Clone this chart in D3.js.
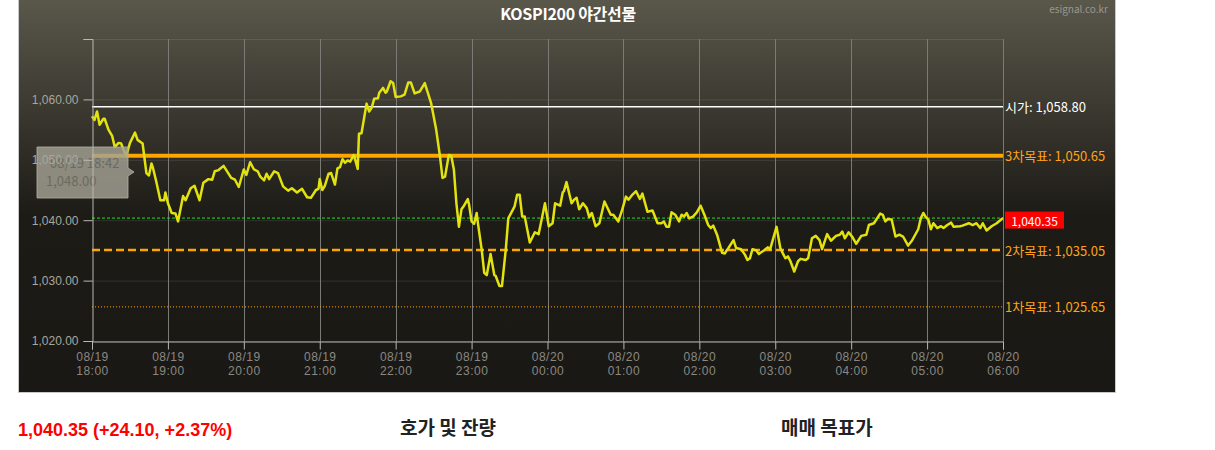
<!DOCTYPE html>
<html>
<head>
<meta charset="utf-8">
<script src="https://cdn.jsdelivr.net/npm/d3@7"></script>
<style>
  body { margin: 0; background: #fff; }
  svg { display: block; font-family: "Noto Sans CJK KR", "Noto Sans", sans-serif; }
</style>
</head>
<body>
<div id="chartDiv"></div>
<script>
// KOSPI200 night futures, 08/19 18:00 - 08/20 06:00

// minutes after 18:00 and price
var minutes = [
  0, 2, 4, 6, 9, 10, 13, 16, 18, 21, 23, 27, 30, 34, 36, 40, 43, 45, 47, 48,
  51, 54, 57, 58, 60, 63, 66, 68, 72, 74, 78, 81, 85, 88, 92, 95, 97, 100, 104, 110,
  113, 116, 120, 122, 125, 128, 131, 133, 136, 138, 140, 144, 147, 151, 155, 158, 162, 166, 170, 173,
  177, 179, 180, 182, 184, 187, 189, 192, 194, 196, 198, 200, 202, 204, 207, 210, 211, 213, 217, 219,
  221, 223, 226, 227, 230, 232, 233, 236, 238, 240, 244, 247, 250, 252, 255, 259, 263, 268, 272, 275,
  277, 279, 282, 284, 286, 288, 290, 292, 294, 297, 298, 300, 302, 304, 305, 308, 310, 312, 315, 318,
  319, 322, 324, 327, 329, 334, 336, 338, 340, 342, 346, 350, 353, 358, 361, 364, 366, 370, 372, 373,
  375, 379, 381, 383, 385, 388, 391, 393, 395, 398, 401, 405, 410, 412, 416, 419, 422, 424, 427, 430,
  433, 435, 439, 443, 447, 450, 452, 454, 456, 458, 461, 464, 466, 468, 470, 472, 475, 478, 481, 484,
  487, 489, 491, 494, 498, 500, 503, 507, 509, 513, 516, 518, 520, 522, 525, 527, 531, 534, 536, 541,
  544, 546, 548, 550, 552, 555, 558, 560, 564, 566, 569, 572, 575, 577, 581, 584, 588, 591, 593, 595,
  598, 601, 604, 608, 612, 614, 618, 623, 625, 627, 629, 632, 635, 638, 641, 645, 648, 653, 655, 657,
  659, 661, 663, 665, 668, 671, 673, 676, 679, 681, 686, 688, 693, 696, 699, 702, 704, 707, 711, 715,
  720
];
var prices = [
  1057.2, 1056.6, 1058.0, 1055.8, 1056.8, 1056.8, 1055.0, 1053.9, 1052.1, 1052.8, 1052.7, 1050.6, 1052.8, 1054.5, 1053.3, 1052.7, 1047.8, 1047.4, 1049.4, 1048.8,
  1046.2, 1043.3, 1043.3, 1044.6, 1042.8, 1041.2, 1041.1, 1039.8, 1044.0, 1043.3, 1045.3, 1045.7, 1043.3, 1046.2, 1046.8, 1046.7, 1048.1, 1048.3, 1049.0, 1047.0,
  1046.7, 1045.5, 1048.4, 1047.5, 1049.6, 1048.4, 1048.1, 1047.2, 1046.6, 1047.7, 1046.8, 1048.1, 1047.8, 1045.6, 1044.9, 1045.3, 1044.6, 1045.2, 1043.8, 1043.7,
  1045.0, 1045.2, 1046.8, 1045.0, 1045.7, 1047.7, 1047.8, 1045.9, 1048.6, 1048.8, 1050.1, 1049.5, 1049.9, 1049.7, 1050.8, 1048.5, 1054.3, 1054.4, 1059.3, 1058.0,
  1058.6, 1060.1, 1060.2, 1061.1, 1061.9, 1061.1, 1061.3, 1063.0, 1062.7, 1060.4, 1060.5, 1060.8, 1062.8, 1062.8, 1061.0, 1061.3, 1062.7, 1059.4, 1055.0, 1050.6,
  1047.0, 1047.2, 1050.8, 1050.6, 1048.4, 1042.8, 1038.9, 1041.8, 1042.4, 1043.5, 1042.6, 1039.8, 1039.4, 1041.2, 1039.5, 1035.1, 1031.3, 1030.9, 1034.4, 1030.9,
  1030.8, 1029.1, 1029.1, 1035.1, 1040.3, 1042.3, 1044.2, 1044.2, 1040.6, 1040.6, 1036.3, 1038.0, 1037.7, 1042.8, 1039.0, 1039.5, 1042.8, 1042.4, 1044.6, 1044.8,
  1046.3, 1042.8, 1043.4, 1043.7, 1041.8, 1042.8, 1042.0, 1040.5, 1041.2, 1039.0, 1039.5, 1043.1, 1040.9, 1040.9, 1039.8, 1041.7, 1043.9, 1043.4, 1044.2, 1044.8,
  1043.5, 1044.4, 1041.4, 1041.6, 1039.5, 1039.5, 1039.8, 1038.9, 1038.9, 1041.3, 1040.9, 1039.8, 1040.9, 1040.6, 1041.2, 1040.3, 1040.6, 1041.3, 1042.4, 1040.9,
  1039.2, 1038.7, 1039.1, 1037.6, 1034.6, 1034.5, 1035.4, 1036.7, 1035.4, 1035.2, 1034.3, 1033.4, 1033.7, 1035.2, 1035.0, 1034.4, 1035.0, 1035.5, 1035.2, 1038.9,
  1035.4, 1034.5, 1033.7, 1034.0, 1033.2, 1031.5, 1033.2, 1033.6, 1033.4, 1033.7, 1037.0, 1037.4, 1036.7, 1035.2, 1037.7, 1036.6, 1037.4, 1037.6, 1038.1, 1037.0,
  1038.0, 1037.2, 1036.1, 1037.4, 1037.6, 1039.2, 1039.5, 1041.1, 1040.9, 1039.8, 1040.2, 1040.1, 1037.3, 1037.6, 1037.3, 1035.8, 1036.6, 1038.5, 1040.3, 1041.2,
  1040.5, 1040.1, 1038.5, 1039.5, 1038.7, 1039.0, 1038.7, 1039.2, 1039.6, 1038.9, 1039.0, 1039.1, 1039.5, 1039.2, 1039.5, 1038.7, 1039.5, 1038.3, 1039.0, 1039.5,
  1040.35
];

// x axis ticks
var tickMinutes = [0, 60, 120, 180, 240, 300, 360, 420, 480, 540, 600, 660, 720];
var tickDates = ["08/19", "08/19", "08/19", "08/19", "08/19", "08/19",
                 "08/20", "08/20", "08/20", "08/20", "08/20", "08/20", "08/20"];
var tickTimes = ["18:00", "19:00", "20:00", "21:00", "22:00", "23:00",
                 "00:00", "01:00", "02:00", "03:00", "04:00", "05:00", "06:00"];
var yTicks = [1020, 1030, 1040, 1050, 1060, 1070];

// reference levels
var levelNames = ["시가", "3차목표", "2차목표", "1차목표"];
var levelValues = [1058.80, 1050.65, 1035.05, 1025.65];
var currentPrice = 1040.35;

// tooltip
var tipTime = "08/19 18:42";
var tipValue = 1048.00;

var canvasWidth = 1215, canvasHeight = 450;
var panel = {left: 18, top: 0, width: 1098, height: 393};
var plot = {left: 92, right: 1003, top: 39, bottom: 341};

var fmt = d3.format(",.2f");

var svg = d3.select("#chartDiv")
    .append("svg")
    .attr("width", canvasWidth)
    .attr("height", canvasHeight);

var grad = svg.append("defs").append("linearGradient")
    .attr("id", "bg")
    .attr("x1", 0).attr("y1", 0).attr("x2", 0).attr("y2", 1);
grad.append("stop").attr("offset", "0%").attr("stop-color", "#5a574b");
grad.append("stop").attr("offset", "55%").attr("stop-color", "#1d1b16");
grad.append("stop").attr("offset", "100%").attr("stop-color", "#1a1814");

svg.append("rect")
    .attr("x", panel.left + 0.5)
    .attr("y", -1)
    .attr("width", panel.width - 1)
    .attr("height", panel.height + 0.5)
    .attr("fill", "url(#bg)")
    .attr("stroke", "#c8c8c8")
    .attr("stroke-width", 1);

var x = d3.scaleLinear().domain([0, 720]).range([plot.left, plot.right]);
var y = d3.scaleLinear().domain([1020, 1070]).range([plot.bottom, plot.top]);

// grid
svg.append("g").selectAll("line")
    .data(yTicks)
    .enter().append("line")
    .attr("x1", plot.left).attr("x2", plot.right)
    .attr("y1", function(d) { return y(d) + 0.5; })
    .attr("y2", function(d) { return y(d) + 0.5; })
    .attr("stroke", "#ffffff")
    .attr("stroke-opacity", 0.1);

svg.append("g").selectAll("line")
    .data(tickMinutes.slice(1))
    .enter().append("line")
    .attr("x1", function(d) { return Math.round(x(d)) + 0.5; })
    .attr("x2", function(d) { return Math.round(x(d)) + 0.5; })
    .attr("y1", plot.top).attr("y2", plot.bottom)
    .attr("stroke", "#7a7a76")
    .attr("stroke-width", 1);

var xAxis = svg.append("g")
    .attr("transform", "translate(0," + (plot.bottom + 0.5) + ")")
    .call(d3.axisBottom(x).tickValues(tickMinutes).tickSize(8).tickFormat(""));

xAxis.select(".domain").attr("stroke", "#b8b8b4");
xAxis.selectAll(".tick line").attr("stroke", "#b8b8b4");

var xLabels = xAxis.selectAll(".tick text");
xLabels.text(null)
    .attr("fill", "#8a8882")
    .style("font-size", "12px")
    .style("letter-spacing", "0.5px")
    .attr("y", 7);
xLabels.append("tspan").attr("x", 0).attr("dy", "1em")
    .text(function(d, i) { return tickDates[i]; });
xLabels.append("tspan").attr("x", 0).attr("dy", "1.2em")
    .text(function(d, i) { return tickTimes[i]; });

// reference lines
var levelColors = ["#ffffff", "#ffa500", "#ffa500", "#ffa500"];
var levelWidths = [1.5, 4, 2.5, 1];
var levelDash = [null, null, "8,4", "1,2"];

svg.append("line")
    .attr("x1", plot.left).attr("x2", plot.right)
    .attr("y1", y(currentPrice)).attr("y2", y(currentPrice))
    .attr("stroke", "#22e022")
    .attr("stroke-width", 1)
    .attr("stroke-dasharray", "3,2");

levelValues.forEach(function(v, i) {
    svg.append("line")
        .attr("x1", plot.left).attr("x2", plot.right)
        .attr("y1", y(v)).attr("y2", y(v))
        .attr("stroke", levelColors[i])
        .attr("stroke-width", levelWidths[i])
        .attr("stroke-dasharray", levelDash[i]);
    svg.append("text")
        .attr("x", plot.right + 2)
        .attr("y", y(v))
        .attr("dominant-baseline", "central")
        .attr("fill", i === 0 ? "#ffffff" : "#ffa31a")
        .style("font-size", "13px")
        .text(levelNames[i] + ": " + fmt(v));
});

// price line
var line = d3.line()
    .x(function(d) { return x(d[0]); })
    .y(function(d) { return y(d[1]); });

svg.append("path")
    .datum(d3.zip(minutes, prices))
    .attr("d", line)
    .attr("fill", "none")
    .attr("stroke", "#e2e20e")
    .attr("stroke-width", 2.5)
    .attr("stroke-linejoin", "round");

// current price tag
svg.append("rect")
    .attr("x", plot.right + 2)
    .attr("y", y(currentPrice) - 6.5)
    .attr("width", 59)
    .attr("height", 17)
    .attr("fill", "#ff0000");
svg.append("text")
    .attr("x", plot.right + 31.5)
    .attr("y", y(currentPrice) + 2)
    .attr("text-anchor", "middle")
    .attr("dominant-baseline", "central")
    .attr("fill", "#ffffff")
    .style("font-size", "12px")
    .text(fmt(currentPrice));

// tooltip
var tip = svg.append("g").attr("transform", "translate(37,147)");
tip.append("path")
    .attr("d", "M0,0H91V21L97,25L91,29V51H0Z")
    .attr("fill", "#a3a194")
    .attr("fill-opacity", 0.82)
    .attr("stroke", "#b4b2a4")
    .attr("stroke-opacity", 0.8);
tip.append("text")
    .attr("x", 13).attr("y", 21)
    .attr("fill", "#6c6a60")
    .style("font-size", "13px")
    .text(tipTime);
tip.append("text")
    .attr("x", 9).attr("y", 39)
    .attr("fill", "#6c6a60")
    .style("font-size", "13px")
    .text(fmt(tipValue));

// y axis drawn last, its labels sit over the tooltip as in the original
var yAxis = svg.append("g")
    .attr("transform", "translate(" + (plot.left + 0.5) + ",0)")
    .call(d3.axisLeft(y).tickValues(yTicks).tickSize(9).tickPadding(5)
        .tickFormat(function(d) { return d === 1070 ? "" : fmt(d); }));
yAxis.select(".domain").attr("stroke", "#b8b8b4");
yAxis.selectAll(".tick line").attr("stroke", "#b8b8b4");
yAxis.selectAll(".tick text")
    .attr("fill", "#a8a69e")
    .style("font-size", "12px");

// titles
svg.append("text")
    .attr("x", 568)
    .attr("y", 13)
    .attr("text-anchor", "middle")
    .attr("dominant-baseline", "central")
    .attr("fill", "#ffffff")
    .style("font-size", "16px")
    .style("font-weight", "bold")
    .style("letter-spacing", "-0.3px")
    .text("KOSPI200 야간선물");

svg.append("text")
    .attr("x", 1108)
    .attr("y", 8)
    .attr("text-anchor", "end")
    .attr("dominant-baseline", "central")
    .attr("fill", "#9a988e")
    .style("font-size", "10px")
    .text("esignal.co.kr");

// below panel
svg.append("text")
    .attr("x", 18)
    .attr("y", 436)
    .attr("fill", "#ff0000")
    .style("font-size", "18px")
    .style("font-weight", "bold")
    .style("font-family", "'Liberation Sans', Arial, sans-serif")
    .text("1,040.35 (+24.10, +2.37%)");

svg.append("text")
    .attr("x", 400)
    .attr("y", 435)
    .attr("fill", "#222222")
    .style("font-size", "19px")
    .style("font-weight", "bold")
    .text("호가 및 잔량");

svg.append("text")
    .attr("x", 781)
    .attr("y", 435)
    .attr("fill", "#222222")
    .style("font-size", "19px")
    .style("font-weight", "bold")
    .text("매매 목표가");
</script>
</body>
</html>
